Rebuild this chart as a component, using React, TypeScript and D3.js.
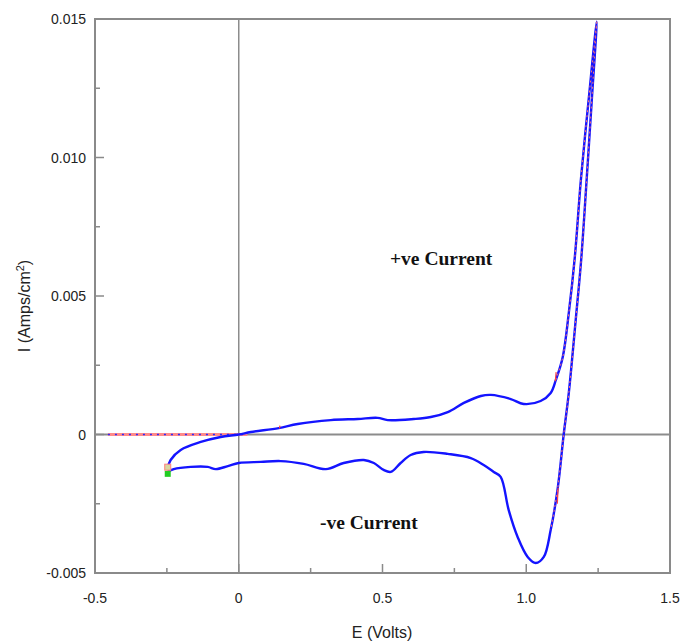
import React from "react";
import * as d3 from "d3";

// Anodic (forward) sweep: potential E (V) and current density I (A/cm²)
const forwardE = [-0.247, -0.237, -0.202, -0.132, -0.063, 0, 0.042, 0.139, 0.205, 0.32, 0.414, 0.483, 0.518, 0.609, 0.668, 0.727, 0.783, 0.842, 0.877, 0.946, 0.991, 1.05, 1.085, 1.103, 1.127, 1.148, 1.169, 1.19, 1.217, 1.245];
const forwardI = [-0.00121, -0.00092, -0.00056, -0.00027, -0.00009, 0, 0.00009, 0.00023, 0.00038, 0.00052, 0.00056, 0.0006, 0.00052, 0.00056, 0.00063, 0.00081, 0.00114, 0.00139, 0.00143, 0.00128, 0.0011, 0.00121, 0.0015, 0.00197, 0.0028, 0.00439, 0.00641, 0.00919, 0.01208, 0.0149];

// Cathodic (reverse) sweep
const reverseE = [1.245, 1.228, 1.21, 1.191, 1.172, 1.148, 1.13, 1.11, 1.085, 1.061, 1.033, 1.005, 0.97, 0.939, 0.911, 0.887, 0.852, 0.807, 0.727, 0.643, 0.598, 0.563, 0.529, 0.504, 0.47, 0.435, 0.365, 0.303, 0.226, 0.146, 0.077, 0, -0.038, -0.08, -0.108, -0.167, -0.226, -0.247];
const reverseI = [0.0149, 0.01208, 0.00919, 0.0063, 0.00413, 0.0015, -0.00002, -0.0019, -0.00345, -0.00442, -0.00464, -0.00442, -0.0037, -0.00273, -0.00153, -0.00135, -0.0011, -0.00085, -0.0007, -0.00063, -0.00074, -0.00103, -0.00135, -0.00128, -0.00103, -0.00092, -0.00103, -0.00125, -0.00106, -0.00096, -0.00099, -0.00103, -0.00114, -0.00125, -0.00117, -0.00117, -0.00125, -0.00135];

// Open-circuit baseline segment
const baselineE = [-0.455, 0.03];
const baselineI = [0, 0];

// Start markers
const startOpen = [-0.247, -0.00118];
const startFilled = [-0.247, -0.00142];

// Short red fit segments [E1, I1, E2, I2]
const redMarks = [
  [0.142, 0.00022, 0.143, 0.00032],
  [1.104, 0.00225, 1.101, 0.00192],
  [1.111, -0.00192, 1.108, -0.0025],
];

const xMajor = [-0.5, 0, 0.5, 1.0, 1.5];
const xMajorLabels = ["-0.5", "0", "0.5", "1.0", "1.5"];
const xMinor = [-0.25, 0.25, 0.75, 1.25];
const yMajor = [-0.005, 0, 0.005, 0.01, 0.015];
const yMajorLabels = ["-0.005", "0", "0.005", "0.010", "0.015"];
const yMinor = [-0.0025, 0.0025, 0.0075, 0.0125];

export default function App() {
  const W = 681, H = 644;
  const L = 95, R = 670, T = 19, B = 573;
  const x = d3.scaleLinear().domain([-0.5, 1.5]).range([L, R]);
  const y = d3.scaleLinear().domain([-0.005, 0.015]).range([B, T]);

  const pts: [number, number][] = [
    ...forwardE.map((e, i) => [e, forwardI[i]] as [number, number]),
    ...reverseE.slice(1).map((e, i) => [e, reverseI[i + 1]] as [number, number]),
  ];
  const line = d3
    .line<[number, number]>()
    .x((d) => x(d[0]))
    .y((d) => y(d[1]))
    .curve(d3.curveCatmullRom.alpha(0.5));
  const curvePath = line(pts) || "";

  const steepFwd = pts.filter((p, i) => i >= 23 && i <= 29);
  const steepRev = reverseE.map((e, i) => [e, reverseI[i]] as [number, number]).slice(0, 9);

  const base: [number, number][] = baselineE.map((e, i) => [e, baselineI[i]]);
  const baseLine = d3.line<[number, number]>().x((d) => x(d[0])).y((d) => y(d[1]));
  const font = "'Liberation Sans', Arial, sans-serif";
  const serif = "'Liberation Serif', 'Times New Roman', serif";
  const ms = 6;

  return (
    <svg width={W} height={H} style={{ position: "absolute", left: 0, top: 0, background: "#fff" }}>
      {/* zero lines */}
      <line x1={L} x2={R} y1={y(0)} y2={y(0)} stroke="#8c8c8c" strokeWidth={2} />
      <line x1={x(0)} x2={x(0)} y1={T} y2={B} stroke="#8c8c8c" strokeWidth={1.5} />

      {/* frame */}
      <rect x={L} y={T} width={R - L} height={B - T} fill="none" stroke="#8a8a8a" strokeWidth={2} />

      {/* ticks */}
      {xMajor.map((v) => (
        <line key={"xm" + v} x1={x(v)} x2={x(v)} y1={B} y2={B - 9} stroke="#8a8a8a" strokeWidth={1.5} />
      ))}
      {xMinor.map((v) => (
        <line key={"xn" + v} x1={x(v)} x2={x(v)} y1={B} y2={B - 5} stroke="#8a8a8a" strokeWidth={1.5} />
      ))}
      {yMajor.map((v) => (
        <line key={"ym" + v} x1={L} x2={L + 9} y1={y(v)} y2={y(v)} stroke="#8a8a8a" strokeWidth={1.5} />
      ))}
      {yMinor.map((v) => (
        <line key={"yn" + v} x1={L} x2={L + 5} y1={y(v)} y2={y(v)} stroke="#8a8a8a" strokeWidth={1.5} />
      ))}

      {/* tick labels */}
      {xMajor.map((v, i) => (
        <text key={"xl" + v} x={x(v)} y={603} textAnchor="middle" fontFamily={font} fontSize={14} fill="#222">
          {xMajorLabels[i]}
        </text>
      ))}
      {yMajor.map((v, i) => (
        <text key={"yl" + v} x={86} y={y(v) + 5} textAnchor="end" fontFamily={font} fontSize={14} fill="#222">
          {yMajorLabels[i]}
        </text>
      ))}

      {/* axis titles */}
      <text x={382} y={638} textAnchor="middle" fontFamily={font} fontSize={16} fill="#222">
        E (Volts)
      </text>
      <text transform="translate(30,306) rotate(-90)" textAnchor="middle" fontFamily={font} fontSize={16} fill="#222">
        I (Amps/cm<tspan baselineShift="super" fontSize={11}>2</tspan>)
      </text>

      {/* baseline */}
      <path d={baseLine(base) || ""} stroke="#ff8a8a" strokeWidth={3} fill="none" />
      <path d={baseLine(base) || ""} stroke="#2a2aff" strokeWidth={1.5} strokeDasharray="2 5" fill="none" />

      {/* voltammogram */}
      <path d={curvePath} stroke="#1414ff" strokeWidth={2.4} fill="none" strokeLinejoin="round" />
      <path d={line(steepFwd) || ""} stroke="#ff7070" strokeWidth={1} strokeDasharray="2 3" fill="none" />
      <path d={line(steepRev) || ""} stroke="#ff7070" strokeWidth={1} strokeDasharray="2 3" fill="none" />

      {redMarks.map((m, i) => (
        <line key={"rm" + i} x1={x(m[0])} y1={y(m[1])} x2={x(m[2])} y2={y(m[3])} stroke="#ff4040" strokeWidth={1.2} />
      ))}

      {/* start markers */}
      <rect x={x(startFilled[0]) - ms / 2} y={y(startFilled[1]) - ms / 2} width={ms} height={ms} fill="#22cc22" />
      <rect x={x(startOpen[0]) - ms / 2} y={y(startOpen[1]) - ms / 2} width={ms} height={ms} fill="#d8d8a0" stroke="#ff8080" strokeWidth={1} />

      {/* annotations */}
      <text x={390} y={265} fontFamily={serif} fontWeight="bold" fontSize={19.5} fill="#111">
        +ve Current
      </text>
      <text x={320} y={529} fontFamily={serif} fontWeight="bold" fontSize={19.5} fill="#111">
        -ve Current
      </text>
    </svg>
  );
}
